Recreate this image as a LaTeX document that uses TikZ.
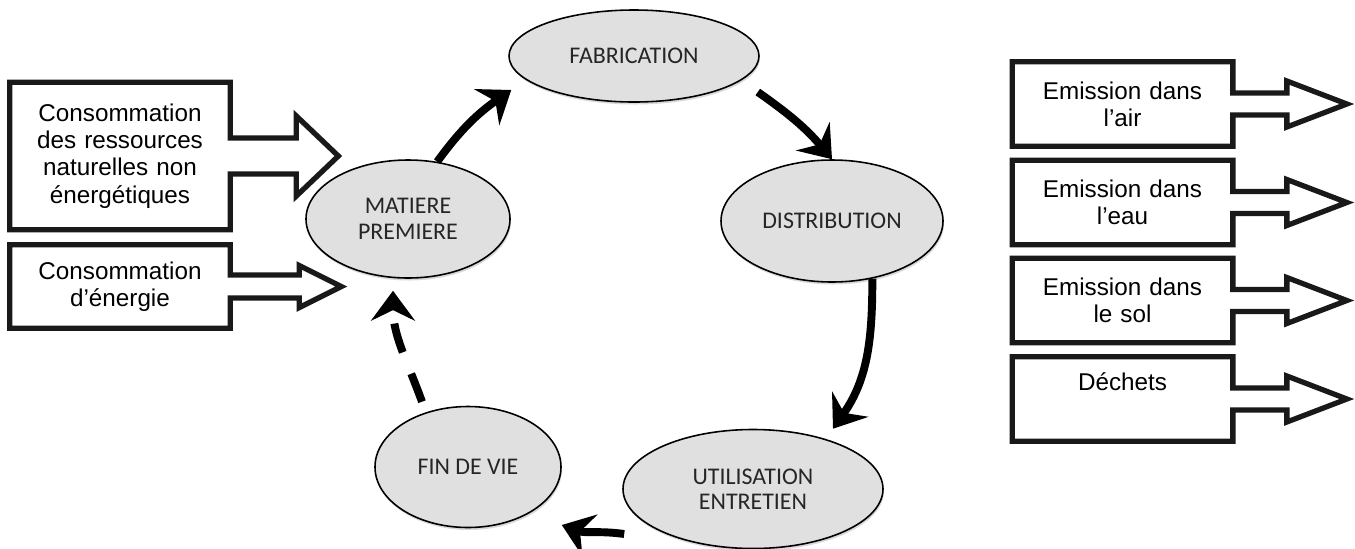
\documentclass[tikz,border=0pt]{standalone}
\usepackage{fontspec}
\setmainfont{Liberation Sans}
\newfontfamily\calibri{Carlito}
\usetikzlibrary{arrows.meta, shapes.geometric, shadows}
\def\boxwidth{4.4cm}

% box outline with its outgoing arrow: node, shaft half, head half, shaft length, head length
\newcommand{\flowbox}[5]{%
  \draw[box line] (#1.north west) -- (#1.north east) -- ([yshift=#2]#1.east)
    -- ([xshift=#4, yshift=#2]#1.east) -- ([xshift=#4, yshift=#3]#1.east)
    -- ([xshift=#4+#5]#1.east)
    -- ([xshift=#4, yshift=-#3]#1.east) -- ([xshift=#4, yshift=-#2]#1.east)
    -- ([yshift=-#2]#1.east) -- (#1.south east) -- (#1.south west) -- cycle;}

\begin{document}
\begin{tikzpicture}
    \tikzstyle{stage}=[ellipse, draw=black, line width=0.9pt, fill=black!12, inner sep=0pt, align=center, text=black!85, font=\calibri\fontsize{13.6}{14.5}\selectfont, drop shadow={opacity=0.3, shadow xshift=0.02cm, shadow yshift=-0.05cm}]
    \tikzstyle{flow box}=[rectangle, minimum width=\boxwidth, inner sep=0pt, text width=4.2cm, align=center, font=\fontsize{13.8}{15.5}\selectfont]
    \tikzstyle{box line}=[line width=3pt, draw=black!90, line join=miter]
    \tikzstyle{flow}=[line width=4.5pt, -{Stealth[length=17pt, width=25pt, inset=6pt]}]

    \useasboundingbox (0,0) rectangle (27.1,-10.96);

    % Draw the cycle stages
    \node[stage, minimum width=4.08cm, minimum height=2.36cm] (S-1) at (8.16,-4.38) {MATIERE\\PREMIERE};
    \node[stage, minimum width=5cm, minimum height=1.84cm] (S-2) at (12.68,-1.12) {FABRICATION};
    \node[stage, minimum width=4.44cm, minimum height=2.44cm] (S-3) at (16.64,-4.42) {DISTRIBUTION};
    \node[stage, minimum width=5.2cm, minimum height=2.38cm] (S-4) at (15.06,-9.78) {UTILISATION\\ENTRETIEN};
    \node[stage, minimum width=3.72cm, minimum height=2.42cm] (S-5) at (9.36,-9.34) {FIN DE VIE};

    \draw[flow] (S-1.63) to[out=54, in=215] ([xshift=0.06cm, yshift=-0.68cm]S-2.west);
    \draw[flow] ([xshift=-0.04cm, yshift=-0.72cm]S-2.east) to[out=-35, in=130] (S-3.north);
    \draw[flow] (S-3.-55) to[out=-90, in=55] ([xshift=1.6cm]S-4.north);
    \draw[flow] ([xshift=0.04cm, yshift=-0.9cm]S-4.west) to[out=172, in=-20] ([yshift=-1.16cm]S-5.east);
    \draw[flow, dash pattern=on 0.6cm off 0.46cm] ([xshift=-0.92cm, yshift=0.08cm]S-5.north) to[out=110, in=-90] ([xshift=-0.3cm, yshift=-0.24cm]S-1.south);

    % Draw the inputs
    \node[flow box, minimum height=2.94cm] (I-1) at (2.4,-3.12) {Consommation\\des ressources\\naturelles non\\énergétiques};
    \node[flow box, minimum height=1.66cm] (I-2) at (2.4,-5.73) {Consommation\\d’énergie};
    \flowbox{I-1}{0.36cm}{0.8cm}{1.32cm}{0.84cm}
    \flowbox{I-2}{0.23cm}{0.42cm}{1.38cm}{0.84cm}

    % Draw the outputs
    \node[flow box, minimum height=1.68cm] (O-1) at (22.45,-2.08) {Emission dans\\l’air};
    \node[flow box, minimum height=1.68cm] (O-2) at (22.45,-4.05) {Emission dans\\l’eau};
    \node[flow box, minimum height=1.68cm] (O-3) at (22.45,-6.01) {Emission dans\\le sol};
    \node[flow box, minimum height=1.68cm] (O-4) at (22.45,-7.98) {Déchets\\\strut};
    \flowbox{O-1}{0.22cm}{0.46cm}{1.08cm}{1.2cm}
    \flowbox{O-2}{0.22cm}{0.46cm}{1.08cm}{1.2cm}
    \flowbox{O-3}{0.22cm}{0.46cm}{1.08cm}{1.2cm}
    \flowbox{O-4}{0.22cm}{0.46cm}{1.08cm}{1.2cm}
\end{tikzpicture}
\end{document}
